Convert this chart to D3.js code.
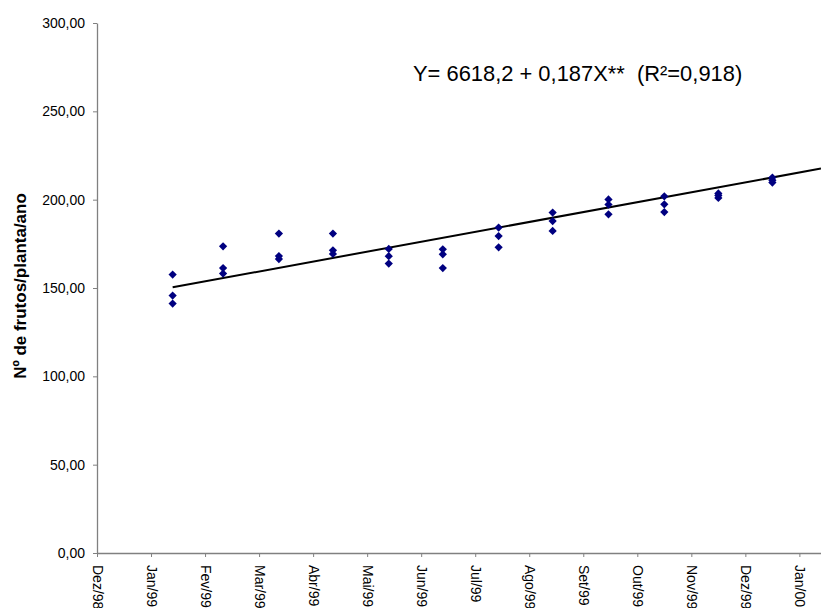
<!DOCTYPE html>
<html>
<head>
<meta charset="utf-8">
<script src="https://cdn.jsdelivr.net/npm/d3@7"></script>
<style>
  body { margin: 0; background: #fff; }
  svg { display: block; font-family: "Liberation Sans", Arial, sans-serif; }
</style>
</head>
<body>
<svg width="821" height="608"></svg>
<script>
// sampling dates (one per month, three plants each)
const sampleDates = ["1999-01-18", "1999-02-15", "1999-03-18", "1999-04-17", "1999-05-18", "1999-06-17",
                     "1999-07-18", "1999-08-17", "1999-09-17", "1999-10-18", "1999-11-17", "1999-12-17"];
const frutos = [
  [157.6, 145.7, 141.2],
  [173.6, 161.3, 158.2],
  [180.8, 168.1, 166.4],
  [180.8, 171.3, 169.3],
  [172.1, 168.0, 163.8],
  [171.9, 169.1, 161.3],
  [184.2, 179.4, 173.0],
  [192.7, 187.9, 182.3],
  [200.1, 197.2, 191.7],
  [201.9, 197.4, 193.0],
  [203.5, 202.4, 201.0],
  [212.5, 211.0, 209.7]
];

// trend line ends
const trendDates = ["1999-01-18", "2000-01-13"];
const trendValues = [150.4, 217.6];

const yTicks = [0, 50, 100, 150, 200, 250, 300];
const xTickLabels = ["Dez/98", "Jan/99", "Fev/99", "Mar/99", "Abr/99", "Mai/99", "Jun/99",
                     "Jul/99", "Ago/99", "Set/99", "Out/99", "Nov/99", "Dez/99", "Jan/00"];
const axisStart = "1998-12-07";
const axisEnd = "2000-01-13";
const tickStepDays = 30;

const equation = "Y= 6618,2 + 0,187X**  (R²=0,918)";
const yTitle = "Nº de frutos/planta/ano";

const svg = d3.select("svg");
const parse = d3.timeParse("%Y-%m-%d");

const plotLeft = 97, plotRight = 821, plotTop = 23, plotBottom = 553;

const x = d3.scaleTime()
  .domain([parse(axisStart), parse(axisEnd)])
  .range([plotLeft, plotRight]);

const y = d3.scaleLinear()
  .domain([0, 300])
  .range([plotBottom, plotTop]);

const fmt = d => d3.format(".2f")(d).replace(".", ",");

// y axis
const yAxis = svg.append("g")
  .attr("transform", `translate(${plotLeft},0)`)
  .call(d3.axisLeft(y).tickValues(yTicks).tickSize(4).tickSizeOuter(0).tickPadding(8).tickFormat(fmt));

yAxis.select(".domain").attr("stroke", "#808080").attr("stroke-width", 1.3);
yAxis.selectAll(".tick line").attr("stroke", "#808080");
yAxis.selectAll("text")
  .attr("font-size", 14)
  .attr("font-family", "Liberation Sans, Arial, sans-serif")
  .attr("fill", "#000");

// x axis
const tickDates = xTickLabels.map((_, i) => d3.timeDay.offset(parse(axisStart), i * tickStepDays));

const xAxis = svg.append("g")
  .attr("transform", `translate(0,${plotBottom})`)
  .call(d3.axisBottom(x).tickValues(tickDates).tickSize(4).tickSizeOuter(0)
    .tickFormat((d, i) => xTickLabels[i]));

xAxis.select(".domain").attr("stroke", "#808080").attr("stroke-width", 1.3);
xAxis.selectAll(".tick line").attr("stroke", "#808080");
xAxis.selectAll("text")
  .attr("font-size", 14)
  .attr("font-family", "Liberation Sans, Arial, sans-serif")
  .attr("fill", "#000")
  .attr("text-anchor", "start")
  .attr("transform", "rotate(90)")
  .attr("x", 12)
  .attr("y", 0)
  .attr("dy", "0.35em");

// clip to plot area
svg.append("clipPath")
  .attr("id", "plot")
  .append("rect")
  .attr("x", plotLeft)
  .attr("y", plotTop)
  .attr("width", plotRight - plotLeft)
  .attr("height", plotBottom - plotTop);

// trend line
const trend = trendDates.map((d, i) => ({ date: parse(d), value: trendValues[i] }));
svg.append("path")
  .datum(trend)
  .attr("clip-path", "url(#plot)")
  .attr("fill", "none")
  .attr("stroke", "#000")
  .attr("stroke-width", 2)
  .attr("d", d3.line().x(d => x(d.date)).y(d => y(d.value)));

// points
const points = [];
sampleDates.forEach((d, i) => {
  frutos[i].forEach(v => points.push({ date: parse(d), value: v }));
});

svg.append("g")
  .selectAll("path")
  .data(points)
  .enter()
  .append("path")
  .attr("d", d3.symbol().type(d3.symbolSquare).size(34))
  .attr("transform", d => `translate(${x(d.date)},${y(d.value)}) rotate(45)`)
  .attr("fill", "#000080");

// equation
svg.append("text")
  .attr("x", 413)
  .attr("y", 81)
  .attr("font-size", 21.9)
  .style("white-space", "pre")
  .text(equation);

// y title
svg.append("text")
  .attr("transform", "translate(26,286) rotate(-90)")
  .attr("text-anchor", "middle")
  .attr("font-size", 17)
  .attr("font-weight", "bold")
  .text(yTitle);
</script>
</body>
</html>
